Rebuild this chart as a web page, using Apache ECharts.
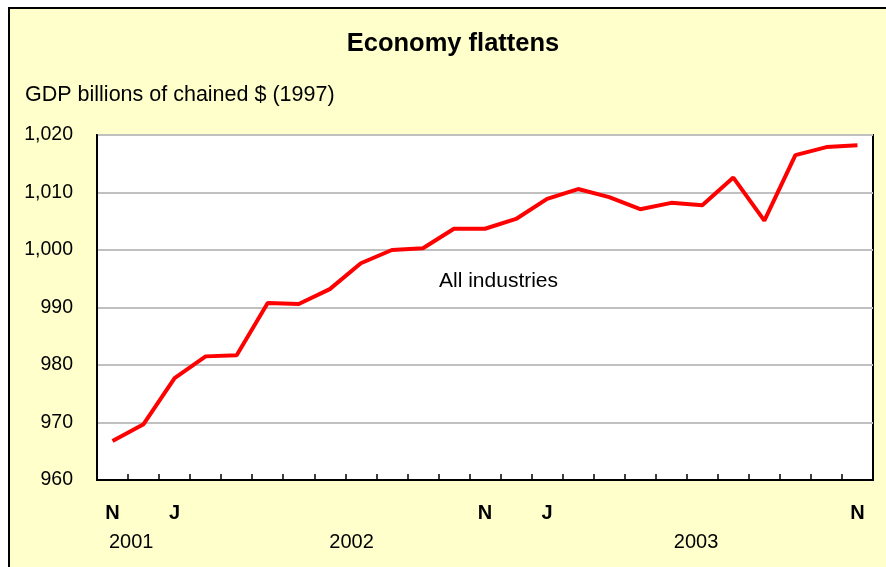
<!DOCTYPE html>
<html>
<head>
<meta charset="utf-8">
<script src="https://cdn.jsdelivr.net/npm/echarts@6/dist/echarts.min.js"></script>
<style>html,body{margin:0;padding:0;background:#fff;}#c{width:886px;height:567px;}</style>
</head>
<body>
<div id="c"></div>
<script>
const titleText = "Economy flattens";
const unitText = "GDP billions of chained $ (1997)";
const seriesName = "All industries";
const categories = ["Nov 2001","Dec 2001","Jan 2002","Feb 2002","Mar 2002","Apr 2002","May 2002","Jun 2002","Jul 2002","Aug 2002","Sep 2002","Oct 2002","Nov 2002","Dec 2002","Jan 2003","Feb 2003","Mar 2003","Apr 2003","May 2003","Jun 2003","Jul 2003","Aug 2003","Sep 2003","Oct 2003","Nov 2003"];
const monthLabels = ["N","","J","","","","","","","","","","N","","J","","","","","","","","","","N"];
const gdpValues = [966.8, 969.7, 977.7, 981.5, 981.7, 990.8, 990.6, 993.2, 997.7, 1000.0, 1000.3, 1003.7, 1003.7, 1005.4, 1008.9, 1010.6, 1009.2, 1007.1, 1008.2, 1007.8, 1012.6, 1005.1, 1016.5, 1017.9, 1018.2];
const yearLabels = ["2001","2002","2003"];
const yearPositions = [0.6, 7.7, 18.8];
const yMin = 960, yMax = 1020, yStep = 10;

const FONT = "Liberation Sans, Arial, sans-serif";
const chart = echarts.init(document.getElementById('c'), null, {renderer:'canvas'});
chart.setOption({
  backgroundColor: '#ffffff',
  animation: false,
  graphic: [
    {type:'rect', z:-10, silent:true, shape:{x:9, y:8, width:900, height:600},
     style:{fill:'#FFFFCC', stroke:'#000000', lineWidth:2}},
    {type:'text', z:10, silent:true, left:439, top:271,
     style:{text: seriesName, font:'21px ' + FONT, fill:'#000'}}
  ],
  title: [
    {text: titleText, left: 453, top: 26, textAlign:'center', padding:[5,0,5,0],
     textStyle:{fontFamily:FONT, fontWeight:'bold', fontSize:25.5, color:'#000'}},
    {text: unitText, left: 25, top: 79, padding:[5,0,5,0],
     textStyle:{fontFamily:FONT, fontWeight:'normal', fontSize:21.5, color:'#000'}}
  ],
  grid: {left:97, top:135, right:13, bottom:87, show:true, backgroundColor:'#ffffff', borderColor:'#000', borderWidth:2},
  xAxis: [
    {type:'category', data: categories, boundaryGap:true,
     axisLine:{show:true, onZero:false, lineStyle:{color:'#000', width:2}},
     axisTick:{show:true, inside:true, interval:0, length:6, lineStyle:{color:'#000', width:1.5}},
     axisLabel:{interval:0, margin:23, fontFamily:FONT, fontWeight:'bold', fontSize:20, color:'#000',
       formatter:(v, i) => monthLabels[i]},
     splitLine:{show:false}},
    {type:'value', position:'bottom', min:-0.5, max:24.5,
     axisLine:{show:false, onZero:false}, axisTick:{show:false}, splitLine:{show:false},
     axisLabel:{show:true, customValues: yearPositions, margin:52, fontFamily:FONT, fontSize:20, color:'#000',
       formatter:(v) => { const k = yearPositions.findIndex(p => Math.abs(p - v) < 1e-6); return k >= 0 ? yearLabels[k] : ''; }}}
  ],
  yAxis: {type:'value', min:yMin, max:yMax, interval:yStep,
    axisLine:{show:true, onZero:false, lineStyle:{color:'#000', width:2}},
    axisTick:{show:false},
    splitLine:{show:true, lineStyle:{color:'#C0C0C0', width:2}},
    axisLabel:{margin:24, fontFamily:FONT, fontSize:19.5, color:'#000',
      formatter:(v) => v.toLocaleString('en-US')}},
  series: [{type:'line', name: seriesName, data: gdpValues, xAxisIndex:0, showSymbol:false, symbol:'none',
    lineStyle:{color:'#FF0000', width:4}, z:5}]
});
</script>
</body>
</html>
